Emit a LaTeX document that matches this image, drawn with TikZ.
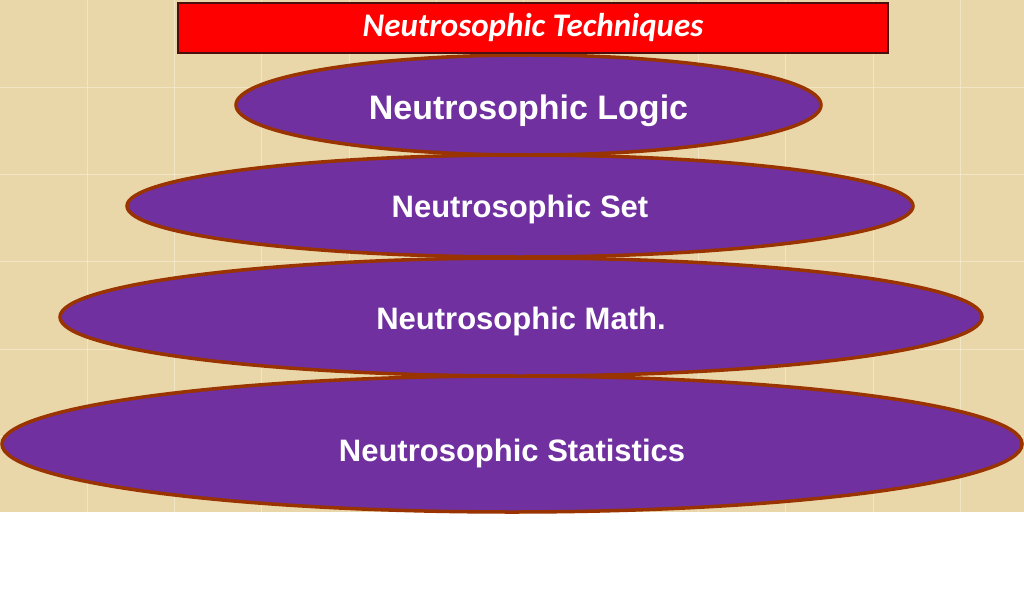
\documentclass[tikz,border=0pt]{standalone}
\usepackage{fontspec}
\setmainfont{Liberation Sans}
\newfontfamily\titlefont{Carlito}
\usepackage{tikz}
\usetikzlibrary{shapes.geometric}
\definecolor{paperBg}{HTML}{EAD7A9}
\definecolor{paperLine}{HTML}{F6EBCF}
\definecolor{layerFill}{HTML}{7030A0}
\definecolor{layerEdge}{HTML}{993300}
\definecolor{titleRed}{HTML}{FF0000}
\definecolor{titleEdge}{HTML}{4A1010}

\begin{document}
\begin{tikzpicture}[
  x=1pt, y=-1pt,
  layer/.style={ellipse, fill=layerFill, draw=layerEdge, line width=3.5pt,
              text=white, align=center, inner sep=0pt, text depth=0pt,
              font=\fontsize{31}{36}\selectfont\bfseries},
  titlebox/.style={rectangle, fill=titleRed, draw=titleEdge, line width=1.2pt,
              text=white, minimum width=710pt, minimum height=50pt,
              font=\titlefont\fontsize{33}{38}\selectfont\bfseries\itshape},
  gridline/.style={draw=paperLine, line width=1pt, opacity=0.7},
]
  \useasboundingbox (0,0) rectangle (1024,599);

  % paper background
  \fill[paperBg] (0,0) rectangle (1024,512);
  \foreach \k in {1,...,11} {
    \draw[gridline] (87.3*\k,0) -- (87.3*\k,512);
  }
  \foreach \k in {1,...,5} {
    \draw[gridline] (0,87.3*\k) -- (1024,87.3*\k);
  }

  % layers, widest at the bottom
  \node[layer, minimum width=1020pt, minimum height=136pt, text height=34pt]
        at (512,444) (stats) {Neutrosophic Statistics};
  \node[layer, minimum width=922pt, minimum height=118pt, text height=24pt]
        at (521,317) (math) {Neutrosophic Math.};
  \node[layer, minimum width=786pt, minimum height=102pt, text height=22pt]
        at (520,206) (set) {Neutrosophic Set};
  \node[layer, minimum width=585pt, minimum height=100pt, text height=30pt,
        font=\fontsize{34}{40}\selectfont\bfseries]
        at (528.5,105) (logic) {Neutrosophic Logic};

  \node[titlebox] at (533,28) (title) {Neutrosophic Techniques};
\end{tikzpicture}
\end{document}
